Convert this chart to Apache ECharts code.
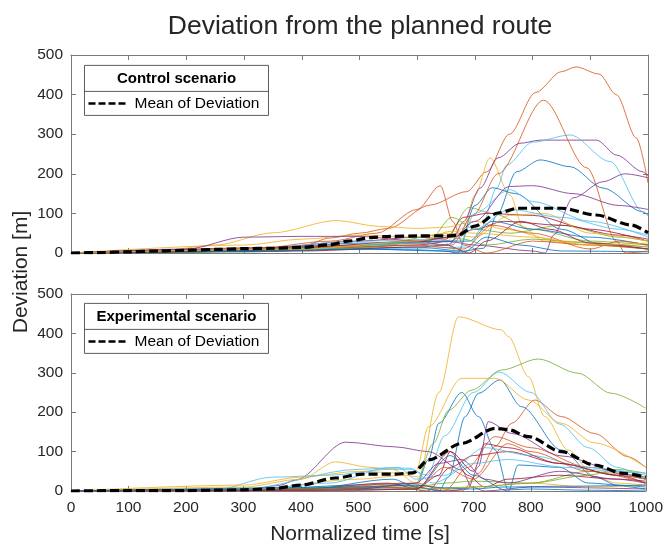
<!DOCTYPE html>
<html>
<head>
<meta charset="utf-8">
<script src="https://cdn.jsdelivr.net/npm/echarts@6/dist/echarts.min.js"></script>
<style>
  html, body { margin: 0; padding: 0; background: #fff; }
  #chart { width: 666px; height: 545px; }
</style>
</head>
<body>
<div id="chart"></div>
<script>
// axis ranges / ticks
var timeRange = [0, 1000], timeStep = 100;
var devRange = [0, 500], devStep = 100;

// mean curves, [time, deviation]
var controlMean = [[0,0],[50,1],[100,3],[150,5],[200,7],[250,9],[300,11],[350,12],[400,14],[450,21],[480,30],[520,39],[550,42],[600,43],[650,43],[670,45],[700,68],[740,101],[775,113],[850,113],[910,96],[970,71],[1000,51]];
var experimentalMean = [[0,0],[100,1],[200,1],[250,2],[300,3],[350,6],[400,15],[460,33],[507,43],[564,43],[595,46],[622,79],[680,121],[738,159],[760,156],[796,138],[853,100],[911,66],[960,45],[1000,35]];

// individual runs, control scenario (colour order follows the MATLAB palette)
var controlRuns = [
  [[0,0],[200,3],[400,8],[600,15],[680,5],[715,12],[738,96],[772,205],[813,235],[865,218],[922,164],[991,104],[1000,95]],
  [[0,0],[100,1],[200,3],[300,6],[400,18],[450,38],[500,50],[550,62],[622,121],[686,155],[720,205],[760,300],[805,405],[850,458],[875,470],[915,452],[945,400],[980,290],[1000,177]],
  [[0,0],[200,2],[400,10],[600,20],[650,30],[680,63],[700,146],[726,240],[761,146],[784,63],[820,30],[900,20],[1000,10]],
  [[0,0],[200,4],[400,10],[600,20],[660,30],[680,79],[709,164],[740,240],[778,277],[813,285],[911,285],[946,247],[991,205],[1000,195]],
  [[0,0],[300,5],[500,15],[600,25],[650,40],[690,115],[730,100],[800,60],[900,30],[1000,20]],
  [[0,0],[200,2],[400,8],[600,12],[690,15],[710,60],[738,164],[755,222],[800,280],[865,298],[934,231],[992,104],[1000,95]],
  [[0,0],[300,8],[500,30],[600,40],[650,35],[680,90],[720,100],[800,95],[900,60],[1000,30]],
  [[0,0],[300,3],[500,10],[650,5],[670,0],[700,120],[730,165],[770,150],[850,60],[920,20],[1000,10]],
  [[0,0],[200,3],[400,12],[600,25],[660,20],[697,96],[740,200],[819,386],[894,215],[946,29],[960,0],[1000,5]],
  [[0,0],[150,5],[250,20],[350,51],[460,82],[535,67],[600,62],[650,65],[700,80],[750,60],[850,30],[1000,15]],
  [[0,0],[300,5],[500,20],[650,30],[700,20],[800,5],[822,0],[836,45],[870,139],[922,180],[960,200],[1000,190]],
  [[0,0],[300,4],[500,20],[620,30],[660,90],[700,60],[760,50],[850,70],[950,40],[1000,30]],
  [[0,0],[300,10],[500,30],[640,35],[670,5],[700,100],[760,160],[800,130],[900,80],[1000,40]],
  [[0,0],[400,15],[600,30],[660,40],[700,60],[750,80],[850,70],[950,45],[1000,35]],
  [[0,0],[300,6],[500,25],[650,30],[690,30],[730,80],[800,60],[900,40],[1000,20]],
  [[0,0],[300,8],[450,30],[530,50],[600,110],[640,170],[662,79],[680,20],[720,0],[800,30],[900,20],[1000,10]],
  [[0,0],[300,20],[400,35],[500,45],[600,40],[650,50],[700,40],[760,95],[820,100],[900,50],[1000,30]],
  [[0,0],[200,10],[300,40],[400,42],[500,42],[600,30],[650,20],[700,80],[760,168],[800,170],[870,150],[950,120],[1000,110]],
  [[0,0],[300,3],[500,12],[640,45],[680,35],[720,20],[800,35],[900,25],[1000,15]],
  [[0,0],[400,10],[600,25],[650,20],[700,60],[760,110],[850,90],[950,60],[1000,45]],
  [[0,0],[400,5],[600,15],[650,20],[690,0],[720,30],[780,80],[830,60],[900,25],[1000,10]],
  [[0,0],[300,4],[500,10],[600,8],[680,2],[720,40],[780,20],[850,5],[1000,3]],
  [[0,0],[500,15],[600,20],[680,10],[730,70],[800,50],[900,10],[950,30],[1000,20]],
  [[0,0],[400,10],[600,30],[660,55],[700,50],[800,40],[900,20],[1000,25]]
];

// individual runs, experimental scenario
var experimentalRuns = [
  [[0,0],[300,2],[500,15],[580,20],[600,10],[622,80],[640,172],[680,250],[709,189],[738,104],[761,3],[800,5],[900,2],[1000,0]],
  [[0,0],[300,1],[500,10],[600,15],[680,0],[709,45],[738,113],[767,172],[807,231],[853,189],[911,146],[969,87],[1000,60]],
  [[0,0],[300,2],[500,30],[580,40],[605,36],[640,250],[674,442],[749,409],[761,392],[796,290],[824,189],[865,104],[911,36],[950,20],[1000,15]],
  [[0,0],[300,2],[362,14],[391,28],[478,124],[564,112],[622,100],[680,53],[697,10],[720,0],[800,10],[1000,5]],
  [[0,0],[300,2],[500,10],[600,20],[630,120],[657,205],[697,256],[749,307],[813,335],[882,299],[940,248],[1000,210]],
  [[0,0],[250,3],[350,35],[450,40],[550,55],[590,55],[620,40],[650,140],[700,250],[745,302],[800,250],[850,170],[900,110],[950,60],[1000,30]],
  [[0,0],[400,5],[550,20],[620,0],[660,60],[700,90],[760,100],[850,70],[950,40],[1000,30]],
  [[0,0],[400,3],[560,30],[600,10],[640,0],[657,36],[686,189],[709,248],[746,282],[784,214],[853,104],[911,36],[950,15],[1000,10]],
  [[0,0],[400,5],[600,20],[650,0],[690,60],[738,138],[800,110],[900,60],[1000,30]],
  [[0,0],[300,15],[400,35],[500,50],[580,45],[600,50],[622,163],[680,286],[738,286],[796,231],[853,172],[911,122],[1000,60]],
  [[0,0],[400,3],[600,10],[650,0],[690,5],[709,62],[726,176],[767,146],[853,89],[969,41],[1000,35]],
  [[0,0],[400,5],[600,10],[650,20],[700,25],[800,20],[900,50],[950,45],[1000,30]],
  [[0,0],[300,5],[500,55],[570,60],[600,30],[650,40],[720,110],[800,90],[900,60],[1000,40]],
  [[0,0],[400,3],[600,5],[640,40],[660,100],[690,40],[720,10],[760,30],[850,40],[950,30],[1000,25]],
  [[0,0],[400,2],[600,5],[660,90],[700,40],[761,0],[778,66],[850,60],[900,20],[1000,5]],
  [[0,0],[400,2],[550,10],[600,5],[650,60],[700,30],[760,120],[800,100],[900,50],[1000,20]],
  [[0,0],[300,10],[400,30],[460,74],[520,60],[560,55],[600,20],[650,5],[700,10],[800,20],[900,10],[1000,15]],
  [[0,0],[500,5],[600,20],[640,70],[680,80],[720,30],[760,20],[850,50],[950,30],[1000,20]],
  [[0,0],[500,3],[600,5],[700,10],[800,20],[900,40],[950,55],[1000,45]],
  [[0,0],[300,2],[450,20],[550,58],[590,58],[630,20],[700,70],[760,80],[860,60],[950,50],[1000,45]],
  [[0,0],[500,2],[600,5],[660,100],[700,50],[720,120],[760,110],[850,70],[950,40],[1000,20]],
  [[0,0],[500,10],[600,15],[650,8],[700,5],[750,10],[850,12],[1000,15]]
];

var palette = ['#0072BD', '#D95319', '#EDB120', '#7E2F8E', '#77AC30', '#4DBEEE', '#A2142F'];
var FONT = '"Liberation Sans", Arial, Helvetica, sans-serif';
var AXIS_COLOR = '#7a7a7a', TEXT_COLOR = '#262626';

function axisBase(grid, pos, labels) {
  return {
    type : 'value', gridIndex : grid, position : pos,
    axisLine : { show : true, onZero : false, lineStyle : { color : AXIS_COLOR, width : 1 } },
    axisTick : { show : true, inside : true, length : 5, lineStyle : { color : AXIS_COLOR } },
    axisLabel : { show : labels, color : TEXT_COLOR, fontSize : 15.5, fontFamily : FONT, margin : 9,
      formatter : function(v) { return String(v); } },
    splitLine : { show : false }
  };
}
function makeX(grid, pos, labels) {
  var a = axisBase(grid, pos, labels);
  a.min = timeRange[0]; a.max = timeRange[1]; a.interval = timeStep;
  return a;
}
function makeY(grid, pos, labels) {
  var a = axisBase(grid, pos, labels);
  a.min = devRange[0]; a.max = devRange[1]; a.interval = devStep;
  a.axisLabel.margin = 8;
  return a;
}

var series = [];
function addRuns(runs, axisIdx) {
  runs.forEach(function(run, i) {
    series.push({
      type : 'line', data : run, xAxisIndex : axisIdx, yAxisIndex : axisIdx,
      showSymbol : false, smooth : 0.3, smoothMonotone : 'x', silent : true,
      lineStyle : { color : palette[i % palette.length], width : 0.9, opacity : 0.9 },
      z : 2
    });
  });
}
addRuns(controlRuns, 0);
addRuns(experimentalRuns, 2);
[[controlMean, 0], [experimentalMean, 2]].forEach(function(m) {
  series.push({
    type : 'line', name : 'Mean of Deviation', data : m[0],
    xAxisIndex : m[1], yAxisIndex : m[1],
    showSymbol : false, smooth : 0.3, smoothMonotone : 'x', silent : true,
    lineStyle : { color : '#000', width : 3.2, type : [9, 4] },
    z : 5
  });
});

// legend boxes drawn as graphics (title row + dashed sample)
function legendBox(top, title) {
  return {
    type : 'group', left : 82, top : top,
    children : [
      { type : 'rect', shape : { x : 0, y : 0, width : 184, height : 50 }, style : { fill : '#fff', stroke : '#333', lineWidth : 0.8 } },
      { type : 'line', shape : { x1 : 0, y1 : 26, x2 : 184, y2 : 26 }, style : { stroke : '#333', lineWidth : 0.8 } },
      { type : 'text', x : 92, y : 13, style : { text : title, font : 'bold 15px ' + FONT, fill : '#000', textAlign : 'center', textVerticalAlign : 'middle' } },
      { type : 'line', shape : { x1 : 4, y1 : 38, x2 : 44, y2 : 38 }, style : { stroke : '#000', lineWidth : 2.5, lineDash : [7, 3] } },
      { type : 'text', x : 50, y : 38, style : { text : 'Mean of Deviation', font : '15.5px ' + FONT, fill : '#000', textAlign : 'left', textVerticalAlign : 'middle' } }
    ],
    z : 100
  };
}

var chart = echarts.init(document.getElementById('chart'));
chart.setOption({
  animation : false,
  backgroundColor : '#fff',
  grid : [
    { left : 71, top : 55, width : 577, height : 198 },
    { left : 71, top : 294, width : 577, height : 197 }
  ],
  xAxis : [makeX(0, 'bottom', false), makeX(0, 'top', false), makeX(1, 'bottom', true), makeX(1, 'top', false)],
  yAxis : [makeY(0, 'left', true), makeY(0, 'right', false), makeY(1, 'left', true), makeY(1, 'right', false)],
  series : series,
  graphic : [
    { type : 'text', x : 360, y : 27, style : { text : 'Deviation from the planned route', font : '26.5px ' + FONT, fill : TEXT_COLOR, textAlign : 'center', textVerticalAlign : 'middle' } },
    { type : 'text', x : 21, y : 272, rotation : Math.PI / 2, style : { text : 'Deviation [m]', font : '21px ' + FONT, fill : TEXT_COLOR, textAlign : 'center', textVerticalAlign : 'middle' } },
    { type : 'text', x : 360, y : 534, style : { text : 'Normalized time [s]', font : '21px ' + FONT, fill : TEXT_COLOR, textAlign : 'center', textVerticalAlign : 'middle' } },
    legendBox(65, 'Control scenario'),
    legendBox(303, 'Experimental scenario')
  ]
});
</script>
</body>
</html>
